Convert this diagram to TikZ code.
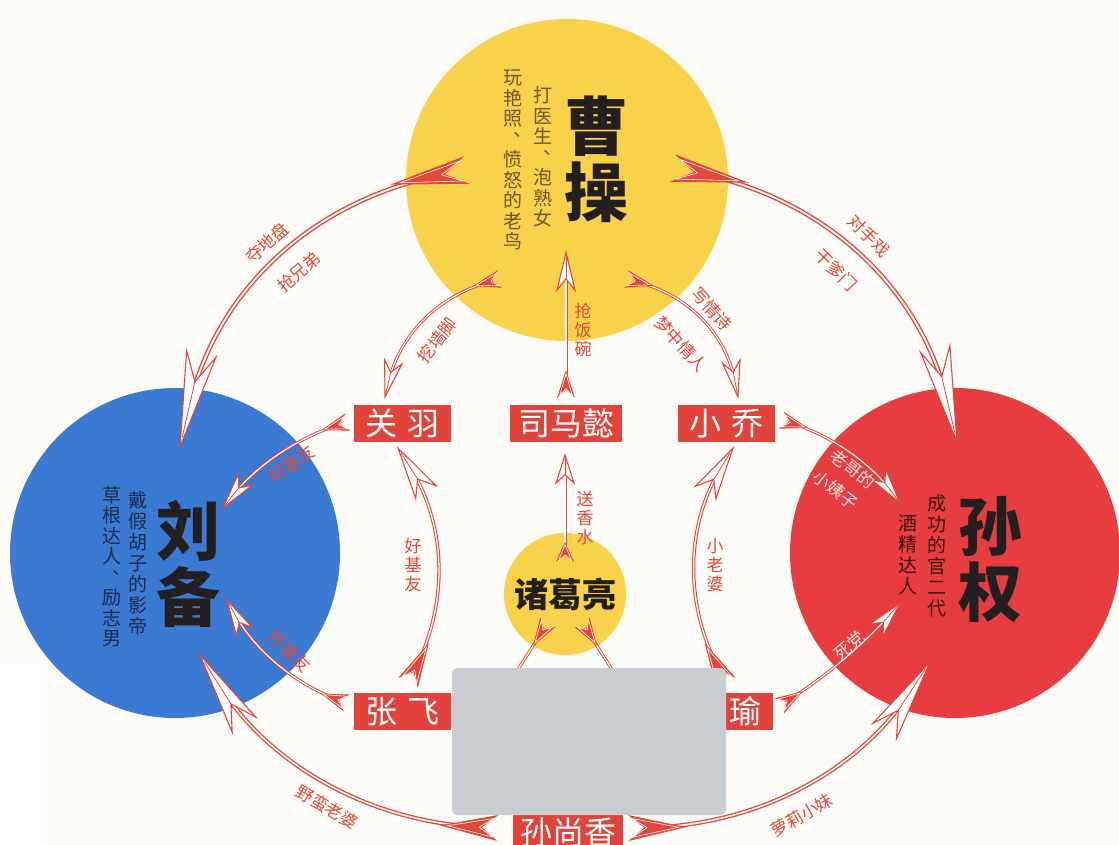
\documentclass[tikz,border=0pt]{standalone}
\usepackage{fontspec}
\setmainfont{Noto Sans CJK SC}
\usetikzlibrary{decorations.markings}
\definecolor{bgc}{HTML}{FCFBF7}
\definecolor{yel}{HTML}{F9D24B}
\definecolor{blu}{HTML}{3A7AD2}
\definecolor{redc}{HTML}{E73C40}
\definecolor{boxr}{HTML}{E1433A}
\definecolor{arw}{HTML}{E2473A}
\definecolor{gry}{HTML}{C9CCD0}
\definecolor{ink}{HTML}{231F20}
\definecolor{brn}{HTML}{6F5630}
\definecolor{nvy}{HTML}{1C2B4E}
\definecolor{dkr}{HTML}{3A1512}
\definecolor{pnk}{HTML}{FBE6E2}
\newcommand\vdun{\makebox[1em][l]{\hspace{0.55em}\raisebox{0.5em}{、}}}
\tikzset{
  fancy/.style n args={8}{
    draw=arw, line width=#6, shorten <=#5pt, shorten >=#8pt,
    postaction={draw=white, line width=#7},
    postaction={decorate, decoration={markings,
      mark=at position 0.0005 with {
        \fill[arw, shorten <=0pt, shorten >=0pt] (0,#4) -- (#3,0) -- (0,-#4) -- (#5,0) -- cycle;
        \draw[white, line width=0.6pt, line join=miter, shorten <=0pt, shorten >=0pt] (0.07*#3,0.72*#4) -- (0.87*#3,0) -- (0.07*#3,-0.72*#4) -- (#5+0.05*#3,0) -- cycle;
      },
      mark=at position 0.999 with {
        \filldraw[fill=white, draw=arw, line width=1.1pt, line join=miter, shorten <=0pt, shorten >=0pt] (0,0) -- (-#1,#2) -- (-0.7*#1,0) -- (-#1,-#2) -- cycle;
        \draw[arw, line width=0.8pt, shorten <=0pt, shorten >=0pt] (-0.7*#1,0) -- (-0.1*#1,0);
      }
    }}
  },
  bigarr/.style={fancy={95}{15}{78}{14}{22}{4.6pt}{1.8pt}{40}},
  botarr/.style={fancy={82}{14}{58}{13}{16}{4.2pt}{1.6pt}{35}},
  midarr/.style={fancy={52}{12}{45}{11}{12}{3.4pt}{1.3pt}{22}},
  smallarr/.style={fancy={36}{9}{28}{9}{8}{3pt}{1.1pt}{15}},
  tinyarr/.style={fancy={28}{9}{20}{9}{6}{3pt}{1.1pt}{12}},
  circ/.style={circle, inner sep=0pt, draw=none},
  rbox/.style={fill=boxr, text=white, inner sep=0pt, font=\fontsize{32}{34}\selectfont},
  bign/.style={align=center, inner sep=0pt, text=ink, font=\bfseries\fontsize{64}{66}\selectfont},
  desc/.style={align=center, inner sep=0pt, font=\fontsize{19}{20.5}\selectfont},
  lab/.style={inner sep=0pt, text=arw, font=\fontsize{17}{19}\selectfont},
  vlab/.style={lab, align=center},
}
\begin{document}
\begin{tikzpicture}[x=1pt,y=-1pt]
\useasboundingbox (0,0) rectangle (1119,845);
\clip (0,0) rectangle (1119,845);
\fill[bgc] (0,0) rectangle (1119,845);
\fill[white] (0,664) rectangle (47,845);

% circles
\node[circ, fill=yel, minimum size=322pt] (cao) at (567,180) {};
\node[circ, fill=blu, minimum size=330pt] (liu) at (175,553) {};
\node[circ, fill=redc, minimum size=330pt] (sun) at (955,553) {};
\node[circ, fill=yel, minimum size=122pt] (zhu) at (565,594) {};

% arrow end coordinates
\coordinate (a1t) at (467,170);  \coordinate (a1h) at (180,447);
\coordinate (a2t) at (672,168);  \coordinate (a2h) at (957,442);
\coordinate (a3t) at (500,279);  \coordinate (a3h) at (385,397);
\coordinate (a4t) at (566,398);  \coordinate (a4h) at (566,252);
\coordinate (a5t) at (626,279);  \coordinate (a5h) at (738,397);
\coordinate (a6t) at (565,562);  \coordinate (a6h) at (565,455);
\coordinate (a7t) at (408,683);  \coordinate (a7h) at (398,448);
\coordinate (a8t) at (726,683);  \coordinate (a8h) at (733,448);
\coordinate (a9t) at (348,422);  \coordinate (a9h) at (223,508);
\coordinate (b1t) at (347,703);  \coordinate (b1h) at (227,600);
\coordinate (b2t) at (781,420);  \coordinate (b2h) at (900,503);
\coordinate (b3t) at (779,706);  \coordinate (b3h) at (900,603);
\coordinate (b4t) at (498,828);  \coordinate (b4h) at (200,655);
\coordinate (b5t) at (628,828);  \coordinate (b5h) at (930,662);
\coordinate (b6t) at (548,622);  \coordinate (b6h) at (480,730);
\coordinate (b7t) at (582,622);  \coordinate (b7h) at (650,730);

% arrows
\draw[bigarr] (a1t) .. controls (310.9,199.7) and (215.3,292.1) .. (a1h);
\draw[bigarr] (a2t) .. controls (826.3,197.6) and (921.3,289) .. (a2h);
\draw[smallarr] (a3t) .. controls (438,295.3) and (399.7,334.7) .. (a3h);
\draw[fancy={38}{9}{28}{9}{8}{3pt}{1.1pt}{15}] (a4t) -- (a4h);
\draw[smallarr] (a5t) .. controls (688.6,294.3) and (726,333.7) .. (a5h);
\draw[tinyarr] (a6t) -- (a6h);
\draw[midarr] (a7t) .. controls (449.7,602.8) and (446.3,524.4) .. (a7h);
\draw[midarr] (a8t) .. controls (683.3,603.4) and (685.7,525) .. (a8h);
\draw[smallarr] (a9t) .. controls (297.3,437.5) and (255.7,466.1) .. (a9h);
\draw[smallarr] (b1t) .. controls (294,683.9) and (254,649.5) .. (b1h);
\draw[smallarr] (b2t) .. controls (829.9,434.6) and (869.5,462.2) .. (b2h);
\draw[smallarr] (b3t) .. controls (824.5,677.8) and (864.9,643.4) .. (b3h);
\draw[botarr] (b4t) .. controls (368.6,822.2) and (269.2,764.6) .. (b4h);
\draw[botarr] (b5t) .. controls (758.1,826.1) and (858.7,770.7) .. (b5h);
\draw[smallarr] (b6t) -- (b6h);
\draw[smallarr] (b7t) -- (b7h);

% names in circles
\node[bign] (caon) at (596,159) {曹\\操};
\node[desc, text=brn] (caod1) at (543,157) {打\\医\\生\\\vdun\\泡\\熟\\女};
\node[desc, text=brn] (caod2) at (513,160) {玩\\艳\\照\\\vdun\\愤\\怒\\的\\老\\鸟};
\node[bign] (liun) at (188,564) {刘\\备};
\node[desc, text=nvy, font=\fontsize{19}{21}\selectfont] (liud1) at (138,563) {戴\\假\\胡\\子\\的\\影\\帝};
\node[desc, text=nvy] (liud2) at (112,567) {草\\根\\达\\人\\\vdun\\励\\志\\男};
\node[bign] (sunn) at (990,560) {孙\\权};
\node[desc, text=dkr, font=\fontsize{19}{21}\selectfont] (sund1) at (937,556) {成\\功\\的\\官\\二\\代};
\node[desc, text=dkr, font=\fontsize{19}{21}\selectfont] (sund2) at (908,555) {酒\\精\\达\\人};
\node[inner sep=0pt, text=ink, font=\bfseries\fontsize{34}{36}\selectfont] (zhun) at (565,594) {诸葛亮};

% red boxes
\node[rbox, minimum width=97pt, minimum height=37pt] (guan) at (402.5,423.5) {关\hspace{10pt}羽};
\node[rbox, minimum width=112pt, minimum height=37pt] (sima) at (566,423.5) {司马懿};
\node[rbox, minimum width=97pt, minimum height=37pt] (xqiao) at (726.5,423.5) {小\hspace{10pt}乔};
\node[rbox, minimum width=97pt, minimum height=37pt] (zhang) at (402.5,711.5) {张\hspace{10pt}飞};
\node[rbox, minimum width=97pt, minimum height=37pt] (zhou) at (724.5,711.5) {周\hspace{10pt}瑜};
\node[rbox, minimum width=110pt, minimum height=40pt] (sunsx) at (568,832) {孙尚香};

% labels
\node[lab, rotate=41] (l1) at (267,243) {夺地盘};
\node[lab, rotate=41] (l2) at (299,272) {抢兄弟};
\node[lab, rotate=-45] (l3) at (869,236) {对手戏};
\node[lab, rotate=-45] (l4) at (836,270) {干爹门};
\node[lab, rotate=53] (l5) at (437,340) {挖墙脚};
\node[vlab] (l6) at (583,330) {抢\\饭\\碗};
\node[lab, rotate=-48] (l7) at (712,309) {写情诗};
\node[lab, rotate=-48] (l8) at (681,344) {梦中情人};
\node[vlab] (l9) at (585,518) {送\\香\\水};
\node[vlab] (l10) at (413,565) {好\\基\\友};
\node[vlab] (l11) at (715,565) {小\\老\\婆};
\node[lab, rotate=35] (l12) at (292,464) {好基友};
\node[lab, rotate=-45] (l13) at (290,651) {好基友};
\node[lab, rotate=-38, text=pnk] (l14) at (853,469) {老哥的};
\node[lab, rotate=-38, text=pnk] (l15) at (836,490) {小姨子};
\node[lab, rotate=40, text=pnk] (l16) at (849,646) {死党};
\node[lab, rotate=-30] (l17) at (327,807) {野蛮老婆};
\node[lab, rotate=30] (l18) at (802,815) {萝莉小妹};

% grey cover
\node[fill=gry, rounded corners=5pt, minimum width=274pt, minimum height=147pt, inner sep=0pt] (mask) at (589,741.5) {};
\end{tikzpicture}
\end{document}
